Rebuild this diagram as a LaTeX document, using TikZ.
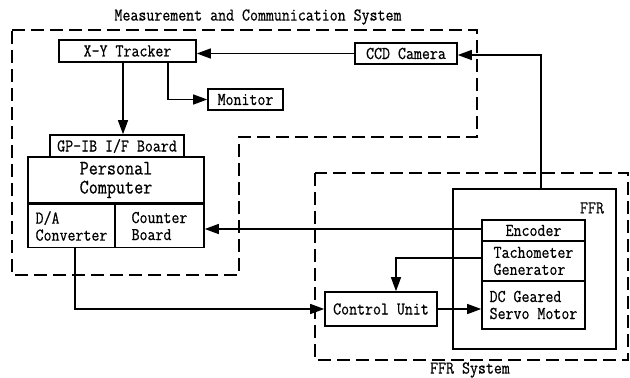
\documentclass[tikz,border=0pt]{standalone}
\usepackage{fontspec}
\newfontfamily\diagfont{Latin Modern Mono}[FakeStretch=0.86,FakeBold=0.6]
\usetikzlibrary{arrows.meta}
\begin{document}
\begin{tikzpicture}[x=1pt,y=-1pt,
  txt/.style={font=\diagfont\fontsize{18}{17}\selectfont, inner sep=0pt},
  box/.style={txt, draw, line width=1.6pt, fill=white},
  bigbox/.style={box, font=\diagfont\fontsize{20.5}{19}\selectfont},
  lbox/.style={box, align=left},
  wire/.style={line width=1.4pt, -{Triangle[length=14pt,width=10pt]}},
  bound/.style={line width=1.4pt, dash pattern=on 13pt off 6pt}]
\useasboundingbox (0,0) rectangle (630,378);

% system boundaries
\draw[bound] (12,30) -- (477,30) -- (477,137) -- (239,137) -- (239,275) -- (12,275) -- cycle;
\draw[bound] (315,173) rectangle (628,360);
\node[txt] (mtitle) at (258,17) {Measurement and Communication System};
\node[txt] (ftitle) at (470,370) {FFR System};

% measurement and communication blocks
\node[box, minimum width=137pt, minimum height=22pt] (xy) at (127.5,51) {X-Y Tracker};
\node[box, minimum width=102pt, minimum height=21pt] (ccd) at (406,53.5) {CCD Camera};
\node[box, minimum width=75pt, minimum height=21pt] (mon) at (245.5,99.5) {Monitor};
\node[box, minimum width=134pt, minimum height=22pt] (gpib) at (117,146) {GP-IB I/F Board};
\node[bigbox, align=center, minimum width=176pt, minimum height=46pt] (pc) at (116,180) {Personal\\Computer};
\node[lbox, minimum width=87pt, minimum height=43pt] (da) at (71.5,226) {D/A\\Converter};
\node[lbox, minimum width=89pt, minimum height=43pt] (cb) at (159.5,226) {Counter\\Board};

% FFR blocks
\node[draw, line width=1.6pt, minimum width=163pt, minimum height=160pt] (ffr) at (534.5,269) {};
\node[txt] (ffrlab) at (592,208) {FFR};
\node[box, minimum width=103pt, minimum height=21pt] (enc) at (533.5,230.5) {Encoder};
\node[lbox, minimum width=103pt, minimum height=40pt] (tach) at (533.5,261) {Tachometer\\Generator};
\node[lbox, minimum width=103pt, minimum height=48pt] (dc) at (533.5,305) {DC Geared\\Servo Motor};
\node[box, minimum width=112pt, minimum height=34pt] (cu) at (381,309) {Control Unit};

% connectors
\coordinate (ffrtap) at ([xshift=6.5pt]ffr.north);
\draw[wire] (ffrtap) |- ([yshift=-1.5pt]ccd.east);
\draw[wire] (ccd.west) -- (xy.east |- ccd.west);
\draw[wire] ([xshift=-4.5pt]xy.south) -- ([xshift=-4.5pt]xy.south |- gpib.north);
\draw[wire] ([xshift=40.5pt]xy.south) |- (mon.west);
\draw[wire] ([yshift=1.5pt]enc.west) -- ([yshift=1.5pt]enc.west -| cb.east);
\draw[wire] ([yshift=3pt]tach.west) -| ([xshift=15pt]cu.north);
\draw[wire] (cu.east) -- (cu.east -| dc.west);
\draw[wire] ([xshift=3.5pt]da.south) |- (cu.west);
\end{tikzpicture}
\end{document}
